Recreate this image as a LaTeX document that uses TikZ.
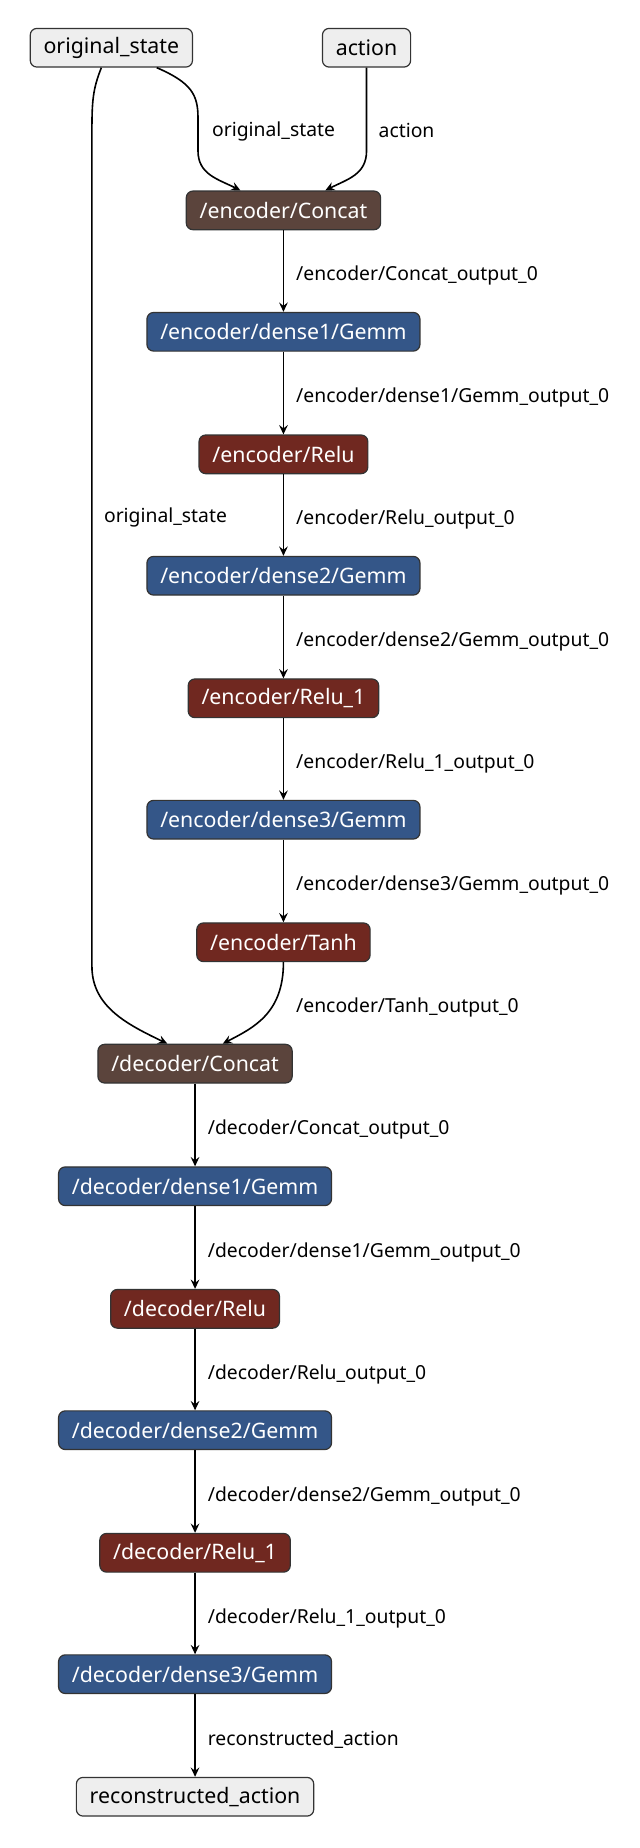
\documentclass[tikz,border=0pt]{standalone}
\usepackage{fontspec}
\setmainfont{Noto Sans}
\usetikzlibrary{arrows.meta}

\definecolor{inputfill}{RGB}{238,238,238}
\definecolor{concatfill}{RGB}{91,68,60}
\definecolor{gemmfill}{RGB}{52,86,136}
\definecolor{relufill}{RGB}{112,40,32}
\definecolor{boxline}{RGB}{51,51,51}

\tikzset{every picture/.style={line width=0.55pt}}
\tikzset{
  opnode/.style={draw=boxline, line width=0.9pt, rounded corners=5pt, minimum height=29pt,
    inner xsep=10pt, inner ysep=0pt, font=\fontsize{16}{18}\selectfont, text=white},
  inputnode/.style={opnode, fill=inputfill, text=black},
  concatnode/.style={opnode, fill=concatfill},
  gemmnode/.style={opnode, fill=gemmfill},
  relunode/.style={opnode, fill=relufill},
  flow/.style={line width=1.2pt, -{Stealth[length=7pt,width=6.5pt,inset=2.5pt]}},
  edgelabel/.style={anchor=west, inner sep=0pt, font=\fontsize{14.5}{17}\selectfont},
  midlabel/.style={edgelabel, xshift=9pt, yshift=-3.5pt}
}

\begin{document}
\begin{tikzpicture}[x=0.884pt,y=0.884pt,yscale=-1,xscale=1]
\useasboundingbox (0,0) rectangle (543,1568);

%Input Nodes
\node [inputnode] (orig) at (94.5,40.5) {original\_state};
\node [inputnode] (act) at (311,40.5) {action};
%Encoder
\node [concatnode] (encconcat) at (240.5,178.5) {/encoder/Concat};
\node [gemmnode] (encdenseone) at (240.5,281.5) {/encoder/dense1/Gemm};
\node [relunode] (encrelu) at (240.5,385.5) {/encoder/Relu};
\node [gemmnode] (encdensetwo) at (240.5,488.5) {/encoder/dense2/Gemm};
\node [relunode] (encreluone) at (240.5,592.5) {/encoder/Relu\_1};
\node [gemmnode] (encdensethree) at (240.5,695.5) {/encoder/dense3/Gemm};
\node [relunode] (enctanh) at (240.5,799.5) {/encoder/Tanh};
%Decoder
\node [concatnode] (decconcat) at (165.5,902.5) {/decoder/Concat};
\node [gemmnode] (decdenseone) at (165.5,1006.5) {/decoder/dense1/Gemm};
\node [relunode] (decrelu) at (165.5,1110.5) {/decoder/Relu};
\node [gemmnode] (decdensetwo) at (165.5,1213.5) {/decoder/dense2/Gemm};
\node [relunode] (decreluone) at (165.5,1317.5) {/decoder/Relu\_1};
\node [gemmnode] (decdensethree) at (165.5,1420.5) {/decoder/dense3/Gemm};
%Output Node
\node [inputnode] (recon) at (165.5,1524.5) {reconstructed\_action};

%Curved Edges into the two Concat nodes
\draw [flow] ([shift={(38.5,0)}]orig.south) .. controls (162,70) and (168,80) .. (168,100)
  -- node [edgelabel, pos=0.4, xshift=10pt] {original\_state} (168,128)
  .. controls (168,148) and (185,152) .. ([shift={(-36.5,0)}]encconcat.north);
\draw [flow] (act.south) -- node [edgelabel, pos=0.76, xshift=8.5pt] {action} (311,128)
  .. controls (311,148) and (295,152) .. ([shift={(35.5,0)}]encconcat.north);
\draw [flow] ([shift={(-8.5,0)}]orig.south) .. controls (79,75) and (78,85) .. (78,110)
  -- node [edgelabel, pos=0.463, xshift=8.5pt] {original\_state} (78,820)
  .. controls (78,855) and (110,870) .. ([shift={(-23.5,0)}]decconcat.north);
\draw [flow] (enctanh.south) .. controls (240.5,860) and (215,872) .. ([shift={(23.5,0)}]decconcat.north);
\node [edgelabel] (tanhlabel) at (251,855) {/encoder/Tanh\_output\_0};

%Straight Edges
\draw [flow] (encconcat) -- node [midlabel] {/encoder/Concat\_output\_0} (encdenseone);
\draw [flow] (encdenseone) -- node [midlabel] {/encoder/dense1/Gemm\_output\_0} (encrelu);
\draw [flow] (encrelu) -- node [midlabel] {/encoder/Relu\_output\_0} (encdensetwo);
\draw [flow] (encdensetwo) -- node [midlabel] {/encoder/dense2/Gemm\_output\_0} (encreluone);
\draw [flow] (encreluone) -- node [midlabel] {/encoder/Relu\_1\_output\_0} (encdensethree);
\draw [flow] (encdensethree) -- node [midlabel] {/encoder/dense3/Gemm\_output\_0} (enctanh);
\draw [flow] (decconcat) -- node [midlabel] {/decoder/Concat\_output\_0} (decdenseone);
\draw [flow] (decdenseone) -- node [midlabel] {/decoder/dense1/Gemm\_output\_0} (decrelu);
\draw [flow] (decrelu) -- node [midlabel] {/decoder/Relu\_output\_0} (decdensetwo);
\draw [flow] (decdensetwo) -- node [midlabel] {/decoder/dense2/Gemm\_output\_0} (decreluone);
\draw [flow] (decreluone) -- node [midlabel] {/decoder/Relu\_1\_output\_0} (decdensethree);
\draw [flow] (decdensethree) -- node [midlabel] {reconstructed\_action} (recon);
\end{tikzpicture}
\end{document}
